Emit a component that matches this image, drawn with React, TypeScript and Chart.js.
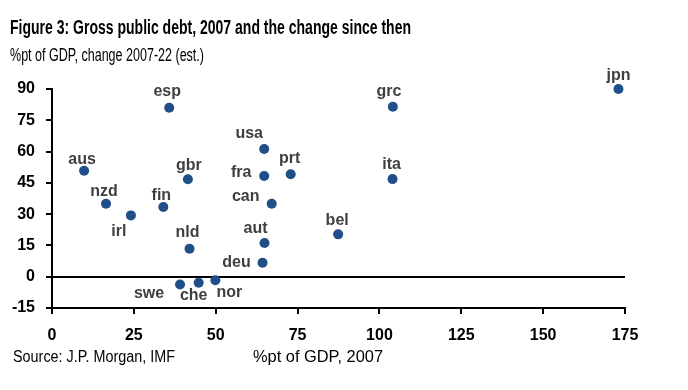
import React, { useEffect, useRef } from "react";
import { Chart, registerables } from "chart.js";

Chart.register(...registerables);

// ---- Data ----
const countries = ["aus", "nzd", "irl", "fin", "esp", "gbr", "nld", "swe", "che", "nor", "usa", "fra", "can", "aut", "deu", "prt", "bel", "grc", "ita", "jpn"];
const debt2007 = [9.8, 16.5, 24.1, 34.0, 35.8, 41.5, 42.0, 39.1, 44.8, 49.9, 64.8, 64.8, 67.1, 64.9, 64.3, 72.9, 87.4, 104.1, 104.0, 173.0];
const change0722 = [50.8, 35.0, 29.4, 33.4, 81.0, 46.7, 13.4, -3.7, -2.9, -1.7, 61.2, 48.3, 35.0, 16.2, 6.7, 49.1, 20.3, 81.5, 46.8, 90.0];
const yTicks = { min: -15, max: 90, step: 15 };
const xTicks = { min: 0, max: 175, step: 25 };

const titleText = "Figure 3: Gross public debt, 2007 and the change since then";
const subtitleText = "%pt of GDP, change 2007-22 (est.)";
const sourceText = "Source: J.P. Morgan, IMF";
const xTitleText = "%pt of GDP, 2007";

// ---- Styling: label placement relative to each point (center x, baseline y) ----
const labelOffsets: Record<string, [number, number]> = {
  aus: [-2, -7], nzd: [-2, -8], irl: [-12, 21], fin: [-2, -7], esp: [-2, -12],
  gbr: [1, -9], nld: [-2, -12], swe: [-31, 14], che: [-5, 17], nor: [14, 17],
  usa: [-15, -11], fra: [-23, 1], can: [-26, -3], aut: [-9, -10], deu: [-26, 4],
  prt: [-1, -11], bel: [-1, -9], grc: [-4, -11], ita: [-1, -10], jpn: [0, -9],
};

const POINT_COLOR = "#1F4E89";
const LABEL_COLOR = "#3F3F3F";
const SANS = '"Liberation Sans", Arial, sans-serif';

function fitText(ctx: CanvasRenderingContext2D, text: string, x: number, y: number, width: number, font: string, color: string) {
  ctx.save();
  ctx.font = font;
  ctx.fillStyle = color;
  ctx.textAlign = "left";
  ctx.textBaseline = "alphabetic";
  const w = ctx.measureText(text).width;
  const s = w > 0 ? width / w : 1;
  ctx.translate(x, y);
  ctx.scale(s, 1);
  ctx.fillText(text, 0, 0);
  ctx.restore();
}

const textPlugin = {
  id: "textPlugin",
  afterDraw(chart: any) {
    const ctx: CanvasRenderingContext2D = chart.ctx;
    fitText(ctx, titleText, 10, 34, 401, `bold 19.5px ${SANS}`, "#000");
    fitText(ctx, subtitleText, 10, 61, 194, `17.5px ${SANS}`, "#000");
    fitText(ctx, sourceText, 13, 362, 162, `16px ${SANS}`, "#000");
    fitText(ctx, xTitleText, 253, 362, 130, `16px ${SANS}`, "#000");
  },
};

const pointLabelPlugin = {
  id: "pointLabels",
  afterDatasetsDraw(chart: any) {
    const ctx: CanvasRenderingContext2D = chart.ctx;
    const meta = chart.getDatasetMeta(0);
    ctx.save();
    ctx.font = `bold 16px ${SANS}`;
    ctx.fillStyle = LABEL_COLOR;
    ctx.textAlign = "center";
    ctx.textBaseline = "alphabetic";
    meta.data.forEach((el: any, i: number) => {
      const name = countries[i];
      const off = labelOffsets[name] || [0, -10];
      ctx.fillText(name, el.x + off[0], el.y + off[1]);
    });
    ctx.restore();
  },
};

export default function App() {
  const ref = useRef<HTMLCanvasElement | null>(null);

  useEffect(() => {
    document.body.style.margin = "0";
    if (!ref.current) return;
    const chart = new Chart(ref.current, {
      type: "scatter",
      data: {
        datasets: [
          {
            label: "Gross public debt",
            data: debt2007.map((x, i) => ({ x, y: change0722[i] })),
            backgroundColor: POINT_COLOR,
            borderColor: POINT_COLOR,
            pointRadius: 5,
            pointHoverRadius: 5,
            borderWidth: 0,
            clip: false,
          },
        ],
      },
      options: {
        responsive: false,
        animation: false,
        events: [],
        layout: { padding: { top: 89, left: 0, right: 63, bottom: 0 } },
        plugins: {
          legend: { display: false },
          tooltip: { enabled: false },
          title: { display: false },
        },
        scales: {
          x: {
            type: "linear",
            min: xTicks.min,
            max: xTicks.max,
            afterFit: (s: any) => { s.height = 82; },
            ticks: {
              stepSize: xTicks.step,
              color: "#000",
              padding: 12,
              font: { family: SANS, size: 16, weight: "bold" },
            },
            grid: { drawOnChartArea: false, color: "#000", tickColor: "#000", lineWidth: 2, tickLength: 6 },
            border: { display: true, color: "#000", width: 2 },
          },
          y: {
            type: "linear",
            min: yTicks.min,
            max: yTicks.max,
            afterFit: (s: any) => { s.width = 52; },
            ticks: {
              stepSize: yTicks.step,
              color: "#000",
              padding: 11,
              font: { family: SANS, size: 16, weight: "bold" },
            },
            grid: {
              drawOnChartArea: true,
              color: (c: any) => (c.tick && c.tick.value === 0 ? "#000" : "rgba(0,0,0,0)"),
              tickColor: "#000",
              lineWidth: 2,
              tickLength: 6,
            },
            border: { display: true, color: "#000", width: 2 },
          },
        },
      },
      plugins: [pointLabelPlugin, textPlugin],
    });
    return () => chart.destroy();
  }, []);

  return (
    <div style={{ width: 688, height: 390, background: "#fff" }}>
      <canvas ref={ref} width={688} height={390} style={{ display: "block" }} />
    </div>
  );
}
